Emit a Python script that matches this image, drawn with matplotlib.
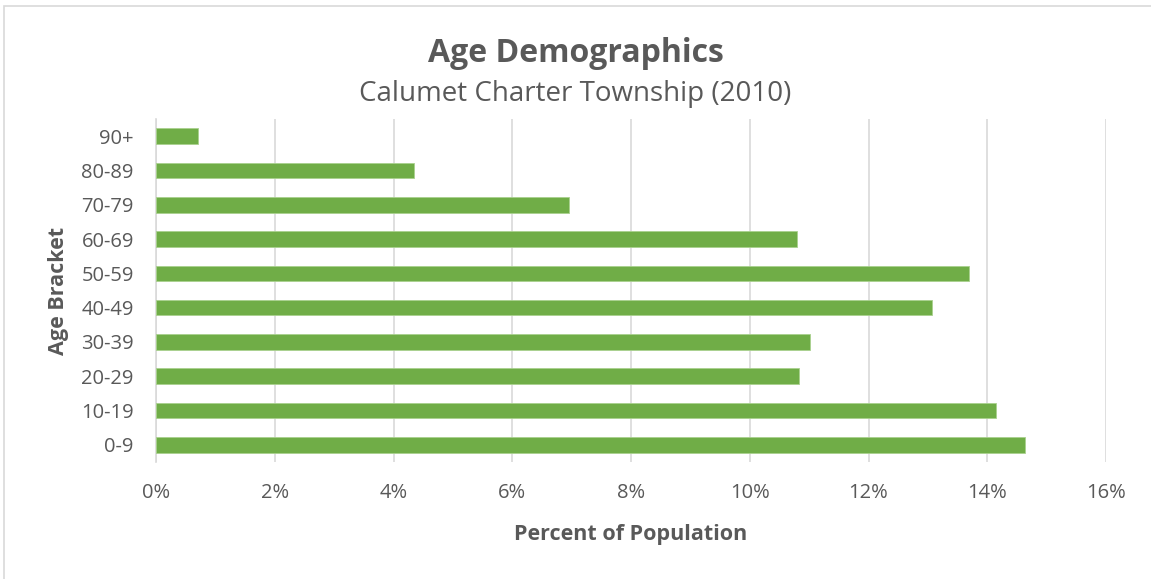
import matplotlib
matplotlib.use('Agg')
import matplotlib.pyplot as plt
from matplotlib.patches import Rectangle
from matplotlib.ticker import FuncFormatter

# age brackets, bottom to top as they appear on the chart
brackets = ['0-9', '10-19', '20-29', '30-39', '40-49',
            '50-59', '60-69', '70-79', '80-89', '90+']
# percent of population per bracket
percent = [14.63, 14.14, 10.83, 11.01, 13.07, 13.70, 10.79, 6.96, 4.34, 0.71]
x_ticks = [0, 2, 4, 6, 8, 10, 12, 14, 16]

TEXT = '#595959'
GRID = '#D9D9D9'
GREEN = '#70AD47'

plt.rcParams['font.family'] = ['Open Sans', 'DejaVu Sans']

fig = plt.figure(figsize=(11.51, 5.79), dpi=100)
ax = fig.add_axes([156 / 1151, 1 - 462 / 579, 950 / 1151, 343 / 579])

ax.barh(range(len(brackets)), percent, height=0.455, color=GREEN,
        edgecolor='#A9D18E', linewidth=0.6, zorder=3)

ax.set_xlim(0, 16)
ax.set_ylim(-0.5, len(brackets) - 0.5)
ax.set_xticks(x_ticks)
ax.xaxis.set_major_formatter(FuncFormatter(lambda v, p: f'{v:.0f}%'))
ax.set_yticks(range(len(brackets)))
ax.set_yticklabels(brackets)

ax.grid(axis='x', color=GRID, linewidth=1.2, zorder=0)
for side in ['top', 'right', 'bottom']:
    ax.spines[side].set_visible(False)
ax.spines['left'].set_color(GRID)
ax.spines['left'].set_linewidth(1.2)
ax.tick_params(axis='x', length=0, pad=15, labelsize=14.5, labelcolor=TEXT)
ax.tick_params(axis='y', length=0, pad=16, labelsize=14.5, labelcolor=TEXT)

ax.set_xlabel('Percent of Population', fontsize=15.5, fontweight='bold',
              color=TEXT, labelpad=15)
ax.set_ylabel('Age Bracket', fontsize=15.5, fontweight='bold',
              color=TEXT, labelpad=9)

fig.text(0.5, 1 - 61.5 / 579, 'Age Demographics', ha='center', va='baseline',
         fontsize=23, fontweight='bold', color=TEXT)
fig.text(0.5, 1 - 101 / 579, 'Calumet Charter Township (2010)', ha='center',
         va='baseline', fontsize=20, color=TEXT)

# light chart-area border
fig.patches.append(Rectangle((4 / 1151, -0.05), 1.1, 1 - 6 / 579 + 0.05,
                             transform=fig.transFigure, fill=False,
                             edgecolor=GRID, linewidth=1.2))

fig.savefig('out.png', dpi=100)
